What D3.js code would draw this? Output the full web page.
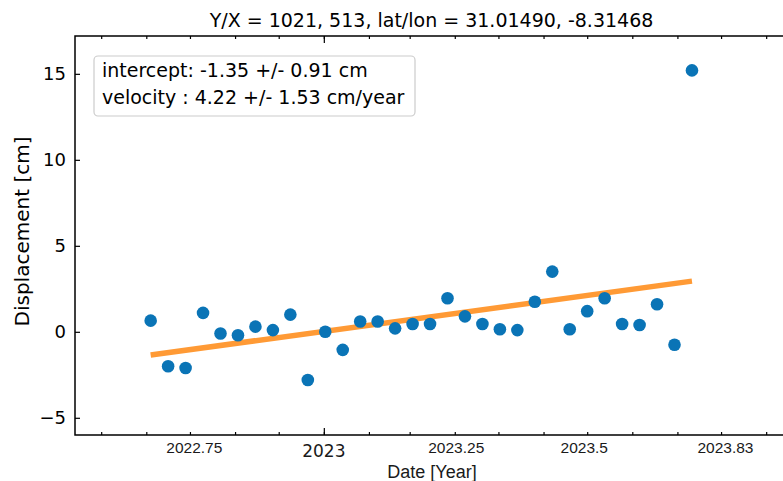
<!DOCTYPE html>
<html>
<head>
<meta charset="utf-8">
<script src="https://cdn.jsdelivr.net/npm/d3@7"></script>
<style>
  html, body { margin: 0; padding: 0; background: #fff; }
  svg { display: block; }
</style>
</head>
<body>
<svg id="chart" width="783" height="481"></svg>
<script>
// ---- data ----
const dates = [
  "2022-09-04","2022-09-16","2022-09-28","2022-10-10","2022-10-22","2022-11-03",
  "2022-11-15","2022-11-27","2022-12-09","2022-12-21","2023-01-02","2023-01-14",
  "2023-01-26","2023-02-07","2023-02-19","2023-03-03","2023-03-15","2023-03-27",
  "2023-04-08","2023-04-20","2023-05-02","2023-05-14","2023-05-26","2023-06-07",
  "2023-06-19","2023-07-01","2023-07-13","2023-07-25","2023-08-06","2023-08-18",
  "2023-08-30","2023-09-11"
];
const displacement = [
  0.65, -2.0, -2.1, 1.1, -0.1, -0.2,
  0.3, 0.1, 1.0, -2.8, 0.0, -1.05,
  0.6, 0.6, 0.2, 0.45, 0.45, 1.95,
  0.9, 0.45, 0.15, 0.1, 1.75, 3.5,
  0.15, 1.2, 1.95, 0.45, 0.4, 1.6,
  -0.75, 15.2
];
const intercept = -1.35;     // cm
const velocity = 4.22;       // cm/year
const yTicks = [-5, 0, 5, 10, 15];
const xLabelDates = ["2022-10-04", "2023-01-01", "2023-04-02", "2023-06-29", "2023-10-04"];
const xLabels = ["2022.75", "2023", "2023.25", "2023.5", "2023.83"];
const title = "Y/X = 1021, 513, lat/lon = 31.01490, -8.31468";
const legendLines = ["intercept: -1.35 +/- 0.91 cm", "velocity : 4.22 +/- 1.53 cm/year"];

// ---- layout ----
const L = 75, R = 788, T = 36, B = 435;
const parse = d3.utcParse("%Y-%m-%d");
const svg = d3.select("#chart");

const x = d3.scaleUtc()
  .domain([parse("2022-07-14"), parse("2023-11-16")])
  .range([L, R]);
const y = d3.scaleLinear().domain([-6, 17.2]).range([B, T]);

const pts = dates.map((d, i) => ({ t: parse(d), v: displacement[i] }));

// fit line
const t0 = pts[0].t, t1 = pts[pts.length - 1].t;
const yrs = (t1 - t0) / (365.25 * 864e5);
const fit = [{ t: t0, v: intercept }, { t: t1, v: intercept + velocity * yrs }];

svg.append("path")
  .datum(fit)
  .attr("d", d3.line().x(d => x(d.t)).y(d => y(d.v)))
  .attr("fill", "none")
  .attr("stroke", "#ff9a35")
  .attr("stroke-width", 5.5);

svg.append("g").selectAll("circle")
  .data(pts).enter().append("circle")
  .attr("cx", d => x(d.t)).attr("cy", d => y(d.v))
  .attr("r", 6.3)
  .attr("fill", "#0a74b6");

// ---- axes ----
const months = x.ticks(d3.utcMonth.every(1));
svg.append("g").attr("transform", `translate(0,${B})`)
  .call(d3.axisBottom(x).tickValues(months).tickSize(-3).tickFormat(""));
svg.append("g").attr("transform", `translate(0,${T})`)
  .call(d3.axisTop(x).tickValues(months).tickSize(-3).tickFormat(""));
// major tick at year start
svg.append("g").attr("transform", `translate(0,${B})`)
  .call(d3.axisBottom(x).tickValues([parse("2023-01-01")]).tickSize(-7).tickFormat(""));
svg.append("g").attr("transform", `translate(0,${T})`)
  .call(d3.axisTop(x).tickValues([parse("2023-01-01")]).tickSize(-7).tickFormat(""));

const gL = svg.append("g").attr("transform", `translate(${L},0)`)
  .call(d3.axisLeft(y).tickValues(yTicks).tickSize(-5).tickPadding(9)
    .tickFormat(d => d < 0 ? "\u2212" + Math.abs(d) : d));
gL.selectAll("text").attr("font-family", "DejaVu Sans").attr("font-size", 18).attr("fill", "#000");

svg.selectAll(".domain").remove();
svg.selectAll(".tick line").attr("stroke", "#000").attr("stroke-width", 1.2);

// frame
svg.append("path")
  .attr("d", `M${R},${T}H${L}V${B}H${R}`)
  .attr("fill", "none").attr("stroke", "#000").attr("stroke-width", 1.5);

// x tick labels
svg.append("g").selectAll("text")
  .data(xLabels).enter().append("text")
  .attr("x", (d, i) => x(parse(xLabelDates[i])))
  .attr("y", (d, i) => d === "2023" ? 457 : 453)
  .attr("text-anchor", "middle")
  .attr("font-family", (d) => d === "2023" ? "DejaVu Sans" : "Liberation Sans")
  .attr("font-size", (d) => d === "2023" ? 17 : 15.5)
  .attr("fill", "#1a1a1a")
  .text(d => d);

// axis titles
svg.append("text")
  .attr("x", 432).attr("y", 478)
  .attr("text-anchor", "middle")
  .attr("font-family", "Liberation Sans").attr("font-size", 18)
  .attr("fill", "#1a1a1a")
  .text("Date [Year]");

svg.append("text")
  .attr("transform", `translate(29,${(T + B) / 2 - 4}) rotate(-90)`)
  .attr("text-anchor", "middle")
  .attr("font-family", "DejaVu Sans").attr("font-size", 20)
  .attr("fill", "#000")
  .text("Displacement [cm]");

svg.append("text")
  .attr("x", 431.5).attr("y", 27)
  .attr("text-anchor", "middle")
  .attr("font-family", "DejaVu Sans").attr("font-size", 19)
  .attr("fill", "#000")
  .text(title);

// legend box
const lg = svg.append("g");
lg.append("rect")
  .attr("x", 94).attr("y", 56).attr("width", 321).attr("height", 60)
  .attr("rx", 4).attr("fill", "#fff").attr("fill-opacity", 0.8)
  .attr("stroke", "#cccccc").attr("stroke-width", 1.2);
lg.selectAll("text").data(legendLines).enter().append("text")
  .attr("x", 102).attr("y", (d, i) => 77 + i * 27)
  .attr("font-family", "DejaVu Sans").attr("font-size", 19)
  .attr("fill", "#000")
  .text(d => d);
</script>
</body>
</html>
